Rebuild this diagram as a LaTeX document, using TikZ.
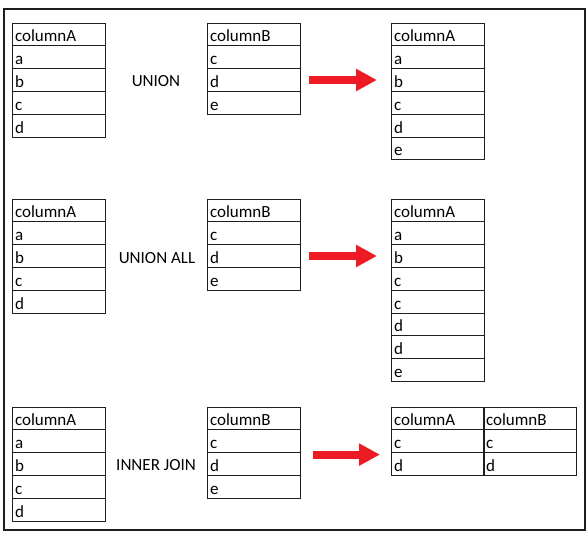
\documentclass[tikz,border=0pt]{standalone}
\usepackage{fontspec}
\setmainfont{Carlito}
\usetikzlibrary{arrows.meta}
\definecolor{arrowred}{RGB}{237,28,36}
\definecolor{linegray}{RGB}{30,30,30}
\newcommand\mktable[4]{%
  \foreach \t [count=\i] in {#4} {%
    \node[cell,anchor=north west] (#1\i) at (#2,{#3+(\i-1)*22.8}) {\t};
  }%
}
\begin{document}
\begin{tikzpicture}[x=1pt,y=-1pt,
  cell/.style={draw=linegray,line width=1pt,minimum width=93pt,minimum height=22.8pt,
    text width=87pt,align=left,inner xsep=3pt,inner ysep=0pt,outer sep=0pt,
    text height=17pt,text depth=2pt,font=\fontsize{17}{19}\selectfont},
  oplabel/.style={font=\fontsize{17}{19}\selectfont,inner sep=0pt},
  redarrow/.style={draw=arrowred,line width=8pt,-{Triangle[length=21pt,width=21pt]}}]
\useasboundingbox (0,0) rectangle (588,536);
\draw[line width=2pt,draw=linegray] (4,9) rectangle (585,530);
% UNION
\mktable{ta}{12}{23}{columnA,a,b,c,d}
\mktable{tb}{207}{23}{columnB,c,d,e}
\mktable{tr}{391}{23}{columnA,a,b,c,d,e}
\node[oplabel] (l1) at (156,81) {UNION};
\draw[redarrow,shorten <=9pt,shorten >=14pt] (tb3) -- (tr3);
% UNION ALL
\mktable{ma}{12}{199}{columnA,a,b,c,d}
\mktable{mb}{207}{199}{columnB,c,d,e}
\mktable{mr}{391}{199}{columnA,a,b,c,c,d,d,e}
\node[oplabel] (l2) at (157,258) {UNION ALL};
\draw[redarrow,shorten <=9pt,shorten >=14pt] (mb3) -- (mr3);
% INNER JOIN
\mktable{ba}{12}{407}{columnA,a,b,c,d}
\mktable{bb}{207}{407}{columnB,c,d,e}
\mktable{bra}{391}{407}{columnA,c,d}
\mktable{brb}{483}{407}{columnB,c,d}
\node[oplabel] (l3) at (156,465) {INNER JOIN};
\draw[redarrow,shorten <=13pt,shorten >=11pt] ([yshift=-2pt]bb2.south east) -- ([yshift=-2pt]bra2.south west);
\end{tikzpicture}
\end{document}
